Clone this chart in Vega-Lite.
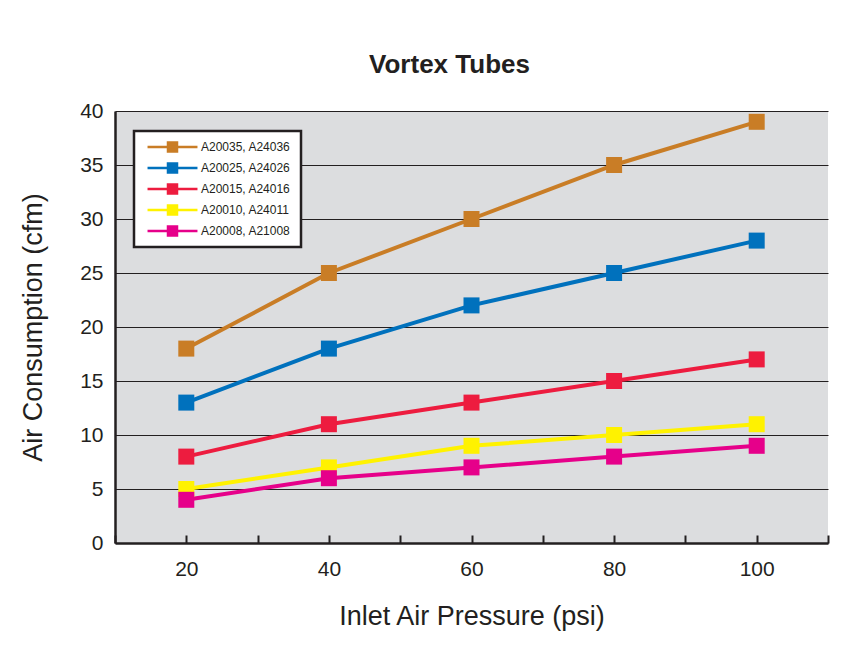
{
  "$schema": "https://vega.github.io/schema/vega-lite/v6.json",
  "width": 713,
  "height": 432,
  "autosize": {"type": "none"},
  "padding": {"left": 115, "top": 111, "right": 31, "bottom": 123},
  "background": "white",
  "title": {"text": "Vortex Tubes", "fontSize": 26, "font": "Liberation Sans", "fontWeight": "bold", "color": "#231f20", "anchor": "middle", "offset": 22, "dx": -22},
  "config": {
    "view": {"fill": "#dcdddf", "stroke": null},
    "font": "Liberation Sans"
  },
  "data": {
    "values": [
      {"psi": 20, "cfm": 18, "model": "A20035, A24036"},
      {"psi": 40, "cfm": 25, "model": "A20035, A24036"},
      {"psi": 60, "cfm": 30, "model": "A20035, A24036"},
      {"psi": 80, "cfm": 35, "model": "A20035, A24036"},
      {"psi": 100, "cfm": 39, "model": "A20035, A24036"},
      {"psi": 20, "cfm": 13, "model": "A20025, A24026"},
      {"psi": 40, "cfm": 18, "model": "A20025, A24026"},
      {"psi": 60, "cfm": 22, "model": "A20025, A24026"},
      {"psi": 80, "cfm": 25, "model": "A20025, A24026"},
      {"psi": 100, "cfm": 28, "model": "A20025, A24026"},
      {"psi": 20, "cfm": 8, "model": "A20015, A24016"},
      {"psi": 40, "cfm": 11, "model": "A20015, A24016"},
      {"psi": 60, "cfm": 13, "model": "A20015, A24016"},
      {"psi": 80, "cfm": 15, "model": "A20015, A24016"},
      {"psi": 100, "cfm": 17, "model": "A20015, A24016"},
      {"psi": 20, "cfm": 5, "model": "A20010, A24011"},
      {"psi": 40, "cfm": 7, "model": "A20010, A24011"},
      {"psi": 60, "cfm": 9, "model": "A20010, A24011"},
      {"psi": 80, "cfm": 10, "model": "A20010, A24011"},
      {"psi": 100, "cfm": 11, "model": "A20010, A24011"},
      {"psi": 20, "cfm": 4, "model": "A20008, A21008"},
      {"psi": 40, "cfm": 6, "model": "A20008, A21008"},
      {"psi": 60, "cfm": 7, "model": "A20008, A21008"},
      {"psi": 80, "cfm": 8, "model": "A20008, A21008"},
      {"psi": 100, "cfm": 9, "model": "A20008, A21008"}
    ]
  },
  "mark": {"type": "line", "strokeWidth": 4, "point": {"shape": "square", "filled": true, "size": 256, "opacity": 1}},
  "encoding": {
    "x": {
      "field": "psi", "type": "quantitative",
      "scale": {"domain": [10, 110], "nice": false},
      "axis": {
        "title": "Inlet Air Pressure (psi)",
        "values": [10, 20, 30, 40, 50, 60, 70, 80, 90, 100, 110],
        "labelExpr": "datum.value % 20 == 0 ? datum.label : ''",
        "grid": false,
        "domainColor": "#231f20", "domainWidth": 2.5,
        "tickColor": "#231f20", "tickWidth": 2, "tickSize": -8,
        "labelFontSize": 21, "labelColor": "#231f20", "labelPadding": 23,
        "titleFontSize": 27, "titleFontWeight": "normal", "titleColor": "#231f20", "titlePadding": 24
      }
    },
    "y": {
      "field": "cfm", "type": "quantitative",
      "scale": {"domain": [0, 40], "nice": false},
      "axis": {
        "title": "Air Consumption (cfm)",
        "values": [0, 5, 10, 15, 20, 25, 30, 35, 40],
        "grid": true, "gridColor": "#231f20", "gridWidth": 1, "gridOpacity": 1,
        "domainColor": "#231f20", "domainWidth": 2.5,
        "ticks": false, "tickSize": 0,
        "labelFontSize": 21, "labelColor": "#231f20", "labelPadding": 12,
        "titleFontSize": 27, "titleFontWeight": "normal", "titleColor": "#231f20", "titlePadding": 32
      }
    },
    "color": {
      "field": "model", "type": "nominal",
      "scale": {
        "domain": ["A20035, A24036", "A20025, A24026", "A20015, A24016", "A20010, A24011", "A20008, A21008"],
        "range": ["#c97d26", "#0071bd", "#ed1c3f", "#fff200", "#e6008a"]
      },
      "legend": {
        "title": null,
        "orient": "none",
        "legendX": 19,
        "legendY": 20,
        "fillColor": "white",
        "strokeColor": "#231f20",
        "padding": 10,
        "rowPadding": 9,
        "clipHeight": 12,
        "labelFontSize": 12,
        "labelColor": "#231f20",
        "symbolType": "M-0.55,0H10.55M4,-1H6V1H4Z",
        "symbolSize": 81,
        "symbolStrokeWidth": 2.5,
        "symbolOpacity": 1,
        "labelOffset": 45,
        "encode": {
          "legend": {"update": {"strokeWidth": {"value": 2.5}}},
          "symbols": {"update": {"fill": {"scale": "color", "field": "value"}, "stroke": {"scale": "color", "field": "value"}}}
        }
      }
    }
  }
}
